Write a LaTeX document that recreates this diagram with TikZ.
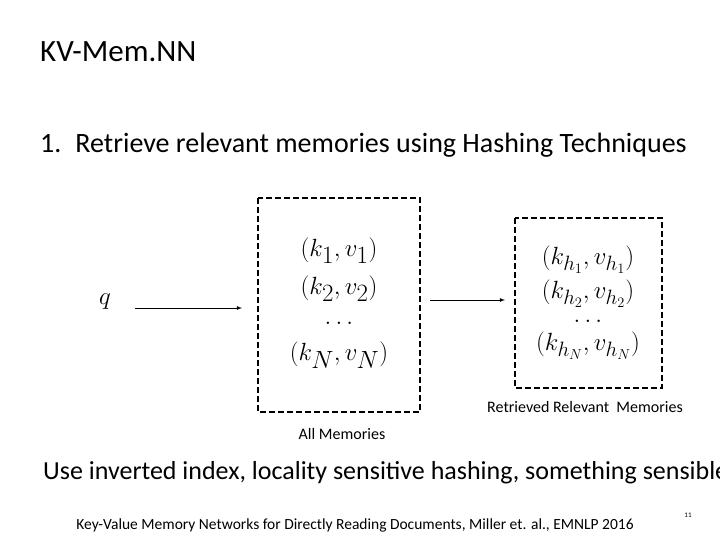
\documentclass[tikz,border=0pt]{standalone}
\usepackage{fontspec}
\setmainfont{Carlito}
\begin{document}
\begin{tikzpicture}[x=1pt,y=-1pt,
  txt/.style={inner sep=0pt,anchor=west},
  box/.style={draw,dashed,line width=1.2pt,dash pattern=on 6pt off 3pt},
  arr/.style={-latex,line width=0.8pt}]
\useasboundingbox (0,0) rectangle (720,540);
\node[txt,font=\fontsize{31}{36}\selectfont] (title) at (40,52) {KV-Mem.NN};
\node[txt,font=\fontsize{28}{32}\selectfont] (item) at (40,145) {1.\hspace{14pt}Retrieve relevant memories using Hashing Techniques};
\draw[box] (258,198) rectangle (420,412);
\node (mem) at (339,303) [font=\fontsize{43}{48}\selectfont,align=center,inner sep=0pt]
  {$(k_1,v_1)$\\[-10pt]$(k_2,v_2)$\\[-18pt]$\dots$\\[-12pt]$(k_N,v_N)$};
\draw[box] (515,218) rectangle (662,388);
\node (ret) at (588,303) [font=\fontsize{30}{34}\selectfont,align=center,inner sep=0pt]
  {$(k_{h_1},v_{h_1})$\\[0pt]$(k_{h_2},v_{h_2})$\\[-10pt]$\dots$\\[-6pt]$(k_{h_N},v_{h_N})$};
\node (q) at (105,302) [font=\fontsize{28}{32}\selectfont] {$q$};
\coordinate (a1s) at (135,308); \coordinate (a1e) at (242,308);
\draw[arr] (a1s) -- (a1e);
\coordinate (a2s) at (430,300); \coordinate (a2e) at (505,300);
\draw[arr] (a2s) -- (a2e);
\node (lr) at (585,407) [font=\fontsize{16}{19}\selectfont] {Retrieved Relevant \ Memories};
\node (la) at (342,434) [font=\fontsize{16}{19}\selectfont] {All Memories};
\node[txt,font=\fontsize{26}{30}\selectfont] (use) at (43,473) {Use inverted index, locality sensitive hashing, something sensible};
\node (cite) at (355,525) [font=\fontsize{15.5}{18}\selectfont] {Key-Value Memory Networks for Directly Reading Documents, Miller et. al., EMNLP 2016};
\node (pg) at (688,515) [font=\fontsize{7}{8}\selectfont] {11};
\end{tikzpicture}
\end{document}
